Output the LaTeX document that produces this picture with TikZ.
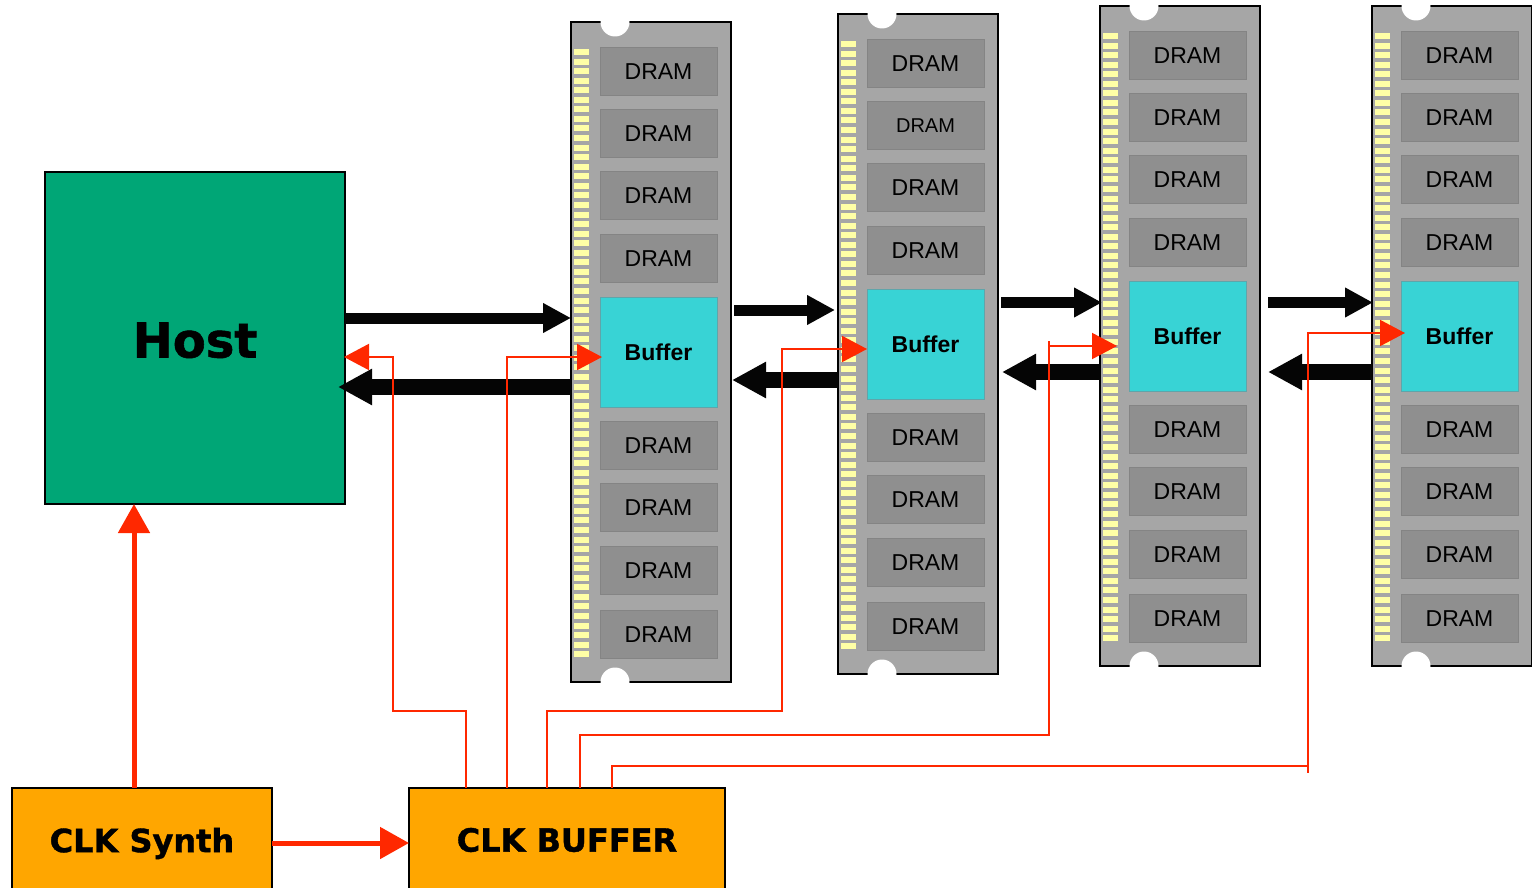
\documentclass[tikz,border=0pt]{standalone}
\usepackage{fontspec}
\setmainfont{Liberation Sans}
\newfontfamily\heavyfont{DejaVu Sans Bold}[FakeBold=1.2]
\usetikzlibrary{arrows.meta}
\definecolor{hostgreen}{RGB}{0,166,118}
\definecolor{clkorange}{RGB}{255,166,0}
\definecolor{modgray}{RGB}{166,166,166}
\definecolor{chipgray}{RGB}{143,143,143}
\definecolor{chipedge}{RGB}{132,132,132}
\definecolor{pinyellow}{RGB}{255,255,166}
\definecolor{bufcyan}{RGB}{56,211,213}
\definecolor{bufedge}{RGB}{95,165,170}
\definecolor{wirered}{RGB}{255,40,0}
\definecolor{arrowblack}{RGB}{5,5,5}
\tikzset{
  module/.style={draw=black, line width=1.2pt, fill=modgray, minimum width=160pt, minimum height=660pt, inner sep=0pt, outer sep=0pt},
  chip/.style={draw=chipedge, line width=0.8pt, fill=chipgray, minimum width=117pt, minimum height=48pt, inner sep=0pt, outer sep=0pt, text=black},
  bufbox/.style={draw=bufedge, line width=1pt, fill=bufcyan, minimum width=117pt, minimum height=110pt, inner sep=0pt, outer sep=0pt, font=\bfseries\fontsize{23}{23}\selectfont},
  pin/.style={fill=pinyellow},
  bigbox/.style={draw=black, line width=2pt, inner sep=0pt, outer sep=0pt},
  fwd/.style={draw=arrowblack, line width=11pt, -{Triangle[length=28pt,width=28pt]}},
  back/.style={draw=arrowblack, line width=15.5pt, -{Triangle[length=34pt,width=34pt]}},
  wire/.style={draw=wirered, line width=2pt, -{Triangle[length=25pt,width=26pt]}},
  wireplain/.style={draw=wirered, line width=2pt},
  thickred/.style={draw=wirered, line width=5pt, -{Triangle[length=29pt,width=31pt]}},
}
\newcommand\dimm[4]{%
  \node[module, anchor=north west] (m#1) at (#2,#3) {};
  \fill[white] (#2+44,#3) circle (14.5pt);
  \fill[white] (#2+44,#3+660) circle (14.5pt);
  \foreach \i in {0,...,63} \fill[pin] (#2+3,#3+27+\i*9.56) rectangle ++(15,6);
  \foreach \k/\yy/\fs in {1/25/23,2/87/#4,3/149/23,4/212/23,5/399/23,6/461/23,7/524/23,8/588/23}
    \node[chip, anchor=north west, font=\fontsize{\fs}{\fs}\selectfont] (c#1-\k) at (#2+29,#3+\yy+0.5) {DRAM};
  \node[bufbox, anchor=north west] (b#1) at (#2+29,#3+275) {Buffer};
}
\begin{document}
\begin{tikzpicture}[x=1pt,y=-1pt]
\useasboundingbox[fill=white] (0,0) rectangle (1532,888);

% memory modules
\dimm{1}{571}{22}{23}
\dimm{2}{838}{14}{20}
\dimm{3}{1100}{6}{23}
\dimm{4}{1372}{6}{23}

% host and clock boxes
\node[bigbox, fill=hostgreen, minimum width=300pt, minimum height=332pt, text height=39pt, text depth=0pt,
      font=\heavyfont\fontsize{48}{48}\selectfont] (host) at (195,338) {Host};
\node[bigbox, fill=clkorange, minimum width=260pt, minimum height=104pt, anchor=north, text depth=0pt,
      font=\heavyfont\fontsize{32}{32}\selectfont] (synth) at (142,788) {CLK Synth};
\node[bigbox, fill=clkorange, minimum width=316pt, minimum height=104pt, anchor=north,
      font=\heavyfont\fontsize{32}{32}\selectfont] (clkbuf) at (567,788) {CLK BUFFER};

% data arrows (black)
\draw[fwd] (host.east |- 0,318) -- (m1.west |- 0,318);
\draw[back, shorten >=-7pt] (m1.west |- 0,387) -- (host.east |- 0,387);
\draw[fwd, shorten <=3pt, shorten >=3pt] (m1.east |- 0,310) -- (m2.west |- 0,310);
\draw[back, shorten >=1pt] (m2.west |- 0,380) -- (m1.east |- 0,380);
\draw[fwd, shorten <=3pt, shorten >=-2pt] (m2.east |- 0,302.5) -- (m3.west |- 0,302.5);
\draw[back, shorten >=4pt] (m3.west |- 0,372) -- (m2.east |- 0,372);
\draw[fwd, shorten <=8pt, shorten >=-1pt] (m3.east |- 0,302.5) -- (m4.west |- 0,302.5);
\draw[back, shorten >=8pt] (m4.west |- 0,372) -- (m3.east |- 0,372);

% clock arrows (thick red)
\draw[thickred] (synth.north -| 134,0) -- (host.south -| 134,0);
\draw[thickred] (synth.east |- 0,843) -- (clkbuf.west |- 0,843);

% clock distribution wires
\draw[wire, shorten >=-1pt] (clkbuf.north -| 466,0) -- (466,711) -- (393,711) -- (393,357) -- (host.east |- 0,357);
\draw[wire, shorten >=-2pt] (clkbuf.north -| 507,0) -- (507,357) -- (b1.west |- 0,357);
\draw[wire] (clkbuf.north -| 547,0) -- (547,711) -- (782,711) -- (782,349) -- (b2.west |- 0,349);
\draw[wire, shorten >=12pt] (clkbuf.north -| 580,0) -- (580,735) -- (1049,735) -- (1049,346) -- (b3.west |- 0,346);
\draw[wire, shorten >=-4pt] (clkbuf.north -| 612,0) -- (612,766) -- (1308,766) -- (1308,333) -- (b4.west |- 0,333);
\draw[wireplain] (1049,346) -- (1049,341);
\draw[wireplain] (1308,766) -- (1308,773);
\end{tikzpicture}
\end{document}
